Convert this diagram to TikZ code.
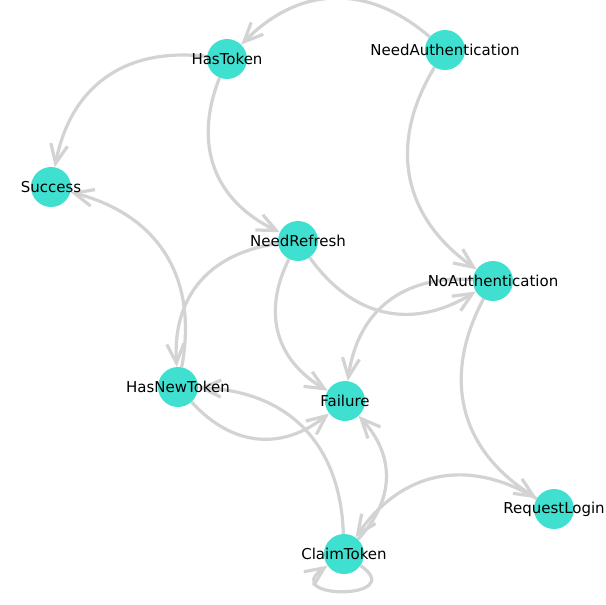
\documentclass[tikz,border=0pt]{standalone}
\usepackage{fontspec}
\usepackage{xcolor}
\newfontfamily\dejavu{DejaVu Sans}
\definecolor{turquoise}{HTML}{40E0D0}
\definecolor{edgegray}{HTML}{D3D3D3}
\usetikzlibrary{arrows.meta,backgrounds}

\begin{document}
\begin{tikzpicture}[
            x=1pt, y=-1pt, % pixel grid of the layout
            state/.style={circle, fill=turquoise, minimum size=40pt, inner sep=0pt, font=\dejavu\fontsize{15pt}{18pt}\selectfont},
            transline/.style={draw=edgegray, line width=3.2pt, -{Straight Barb[length=19pt, width=17pt]}},
            trans/.style={transline, bend right=43, looseness=1.12}
        ]
        
        \useasboundingbox (0,0) rectangle (605,605);
        
        % States
        \node[state] (HasToken) at (227,59) {\makebox[0pt]{HasToken}};
        \node[state] (NeedAuthentication) at (445,50) {\makebox[0pt]{NeedAuthentication}};
        \node[state] (Success) at (51,187) {\makebox[0pt]{Success}};
        \node[state] (NeedRefresh) at (298,241) {\makebox[0pt]{NeedRefresh}};
        \node[state] (NoAuthentication) at (493,281) {\makebox[0pt]{NoAuthentication}};
        \node[state] (HasNewToken) at (178,387) {\makebox[0pt]{HasNewToken}};
        \node[state] (Failure) at (345,401) {\makebox[0pt]{Failure}};
        \node[state] (RequestLogin) at (554,509) {\makebox[0pt]{RequestLogin}};
        \node[state] (ClaimToken) at (344,554) {\makebox[0pt]{ClaimToken}};
        
        % Transitions (behind the states)
        \begin{pgfonlayer}{background}
        \draw[trans] (NeedAuthentication) to (HasToken);
        \draw[trans] (NeedAuthentication) to (NoAuthentication);
        \draw[trans] (HasToken) to (Success);
        \draw[trans] (HasToken) to (NeedRefresh);
        \draw[trans] (NeedRefresh) to (HasNewToken);
        \draw[trans] (NeedRefresh) to (NoAuthentication);
        \draw[trans] (NeedRefresh) to (Failure);
        \draw[trans] (NoAuthentication) to (Failure);
        \draw[trans] (NoAuthentication) to (RequestLogin);
        \draw[trans] (HasNewToken) to (Success);
        \draw[trans] (HasNewToken) to (Failure);
        \draw[trans] (RequestLogin) to (ClaimToken);
        \draw[trans] (ClaimToken) to (HasNewToken);
        \draw[trans] (ClaimToken) to (Failure);
        \draw[transline] (ClaimToken) to[out=-35, in=-145, min distance=60pt] (ClaimToken);
        \end{pgfonlayer}
        
        \end{tikzpicture}
\end{document}
